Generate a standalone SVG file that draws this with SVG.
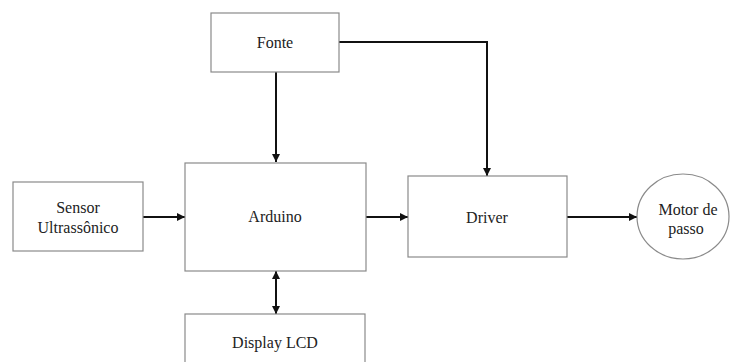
<svg xmlns="http://www.w3.org/2000/svg" width="732" height="362" viewBox="0 0 732 362">
<style>
.box{fill:#fff;stroke:#8a8a8a;stroke-width:1.2}
.t{font-family:'Liberation Serif','Times New Roman','DejaVu Serif',serif;font-size:16px;fill:#222;text-anchor:middle}
.c{fill:none;stroke:#111;stroke-width:2}
</style>
<defs>
<marker id="ah" viewBox="0 0 10 10" refX="10" refY="5" markerWidth="4" markerHeight="4" orient="auto-start-reverse">
<path d="M0,0 L10,5 L0,10 z" fill="#111"/>
</marker>
</defs>
<rect width="732" height="362" fill="#fff"/>
<g id="connectors">
<line class="c" x1="276" y1="72" x2="276" y2="162" marker-end="url(#ah)"/>
<polyline class="c" points="339,42 487,42 487,176" marker-end="url(#ah)"/>
<line class="c" x1="143" y1="217" x2="185" y2="217" marker-end="url(#ah)"/>
<line class="c" x1="366" y1="217" x2="408" y2="217" marker-end="url(#ah)"/>
<line class="c" x1="567" y1="217" x2="637" y2="217" marker-end="url(#ah)"/>
<line class="c" x1="276" y1="271" x2="276" y2="314" marker-start="url(#ah)" marker-end="url(#ah)"/>
</g>
<g id="fonte">
<rect class="box" x="211" y="13" width="128" height="59"/>
<text class="t" x="275" y="48">Fonte</text>
</g>
<g id="sensor">
<rect class="box" x="13" y="182" width="130" height="69"/>
<text class="t" x="78" y="213">Sensor</text>
<text class="t" x="78" y="233">Ultrassônico</text>
</g>
<g id="arduino">
<rect class="box" x="185" y="163" width="181" height="108"/>
<text class="t" x="275" y="222">Arduino</text>
</g>
<g id="driver">
<rect class="box" x="408" y="176" width="159" height="81"/>
<text class="t" x="487" y="223">Driver</text>
</g>
<g id="motor">
<ellipse class="box" cx="683" cy="216.5" rx="46" ry="42.5"/>
<text class="t" x="688" y="215">Motor de</text>
<text class="t" x="686" y="234">passo</text>
</g>
<g id="display">
<rect class="box" x="185" y="314" width="180" height="60"/>
<text class="t" x="275" y="348">Display LCD</text>
</g>
</svg>
